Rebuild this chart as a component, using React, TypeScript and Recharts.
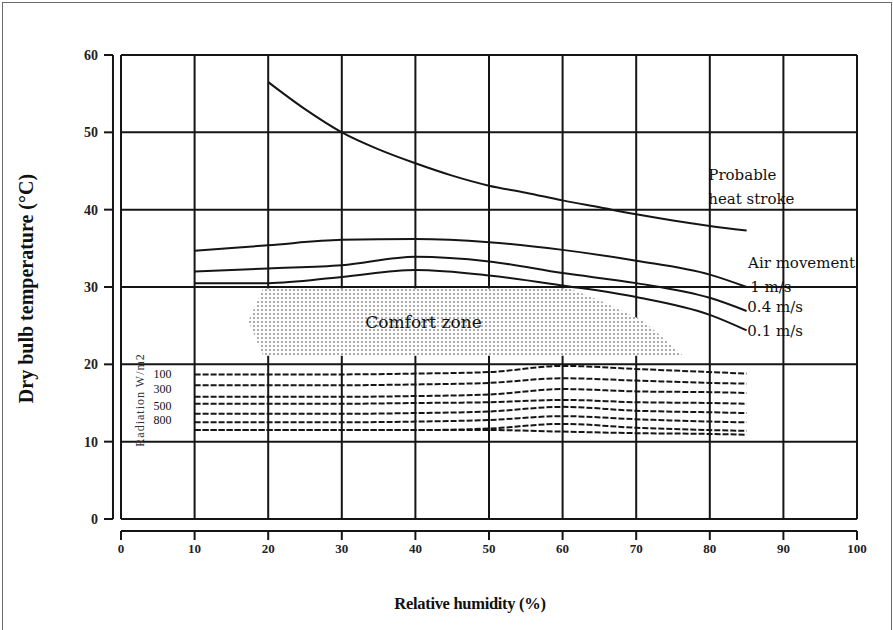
import {
  Area,
  CartesianGrid,
  ComposedChart,
  Line,
  ReferenceDot,
  ReferenceLine,
  XAxis,
  YAxis,
} from "recharts";

// relative humidity (%) on x, dry bulb temperature (°C) on y
const humidityTicks = [0, 10, 20, 30, 40, 50, 60, 70, 80, 90, 100];
const tempTicks = [0, 10, 20, 30, 40, 50, 60];

const heatHumidity = [20, 25, 30, 35, 40, 45, 50, 55, 60, 65, 70, 75, 80, 85];
const heatStroke = [56.5, 53, 50, 47.8, 46, 44.4, 43.1, 42.2, 41.2, 40.3, 39.4, 38.6, 37.9, 37.3];

const lowerHumidity = [10, 20, 30, 40, 50, 60, 70, 80, 85];
const air1 = [34.7, 35.4, 36.1, 36.2, 35.8, 34.8, 33.4, 31.6, 30.0];
const air04 = [32.0, 32.4, 32.8, 33.9, 33.3, 31.8, 30.5, 28.6, 26.9];
const air01 = [30.5, 30.5, 31.3, 32.2, 31.5, 30.2, 28.7, 26.4, 24.4];

const rad1 = [18.7, 18.7, 18.7, 18.8, 19.0, 19.8, 19.4, 19.0, 18.8];
const rad2 = [17.3, 17.3, 17.3, 17.4, 17.6, 18.2, 17.9, 17.6, 17.5];
const rad3 = [15.8, 15.8, 15.8, 15.9, 16.1, 16.8, 16.5, 16.4, 16.3];
const rad4 = [14.9, 14.9, 14.9, 15.0, 15.1, 15.4, 15.1, 15.0, 14.9];
const rad5 = [13.6, 13.6, 13.6, 13.7, 13.9, 14.5, 14.0, 13.8, 13.7];
const rad6 = [12.5, 12.5, 12.5, 12.6, 12.8, 13.3, 12.9, 12.6, 12.5];
const rad7 = [11.5, 11.5, 11.5, 11.5, 11.7, 12.3, 11.8, 11.5, 11.4];
const rad8 = [11.5, 11.5, 11.5, 11.5, 11.5, 11.3, 11.1, 11.0, 10.9];
const radiationSeries = [rad1, rad2, rad3, rad4, rad5, rad6, rad7, rad8];

// comfort zone outline: humidity, lower and upper temperature
const comfortHumidity = [17.3, 19.3, 60.9, 65, 71, 76.4];
const comfortLow = [25.6, 21.1, 21.1, 21.1, 21.1, 21.1];
const comfortHigh = [25.6, 29.8, 29.8, 28.3, 25.6, 21.1];

const radiationLabels = ["100", "300", "500", "800"];
const radiationLabelTemps = [18.75, 16.8, 14.7, 12.8];

const heatRows = heatHumidity.map((h, i) => ({ h, t: heatStroke[i] }));
const lowerRows = lowerHumidity.map((h, i) => {
  const row: Record<string, number> = { h, air1: air1[i], air04: air04[i], air01: air01[i] };
  radiationSeries.forEach((s, k) => (row[`rad${k}`] = s[i]));
  return row;
});
const comfortRows = comfortHumidity.map((h, i) => ({ h, range: [comfortLow[i], comfortHigh[i]] }));

const SERIF = '"Liberation Serif", "Times New Roman", serif';
const NOTE = '"DejaVu Serif", serif';
const INK = "#151515";

// axes sit a little away from the plot box, like the printed figure
const X_AXIS_AT = -1.55;
const Y_AXIS_AT = -1.09;

function note(value: string, fontSize = 15) {
  return { value, position: "right" as const, offset: 0, fill: "#111", fontSize, fontFamily: NOTE };
}

function XTick({ x, y, payload }: any) {
  return (
    <g>
      <line x1={x} x2={x} y1={y + 12} y2={y + 21} stroke={INK} strokeWidth={2} />
      <text x={x} y={y + 34} textAnchor="middle" fill="#222" fontSize={13} fontFamily={SERIF} fontWeight="bold">
        {payload.value}
      </text>
    </g>
  );
}

function YTick({ x, y, payload }: any) {
  return (
    <g>
      <line x1={x - 17} x2={x - 8} y1={y} y2={y} stroke={INK} strokeWidth={2} />
      <text x={x - 23} y={y + 5} textAnchor="end" fill="#222" fontSize={14} fontFamily={SERIF} fontWeight="bold">
        {payload.value}
      </text>
    </g>
  );
}

export default function App() {
  return (
    <div style={{ position: "absolute", left: 0, top: 0, width: 893, height: 630, background: "#fff", overflow: "hidden" }}>
      <div
        style={{
          position: "absolute",
          left: 2,
          top: 2,
          width: 888,
          height: 640,
          border: "1px solid #6b6b6b",
        }}
      />
      <ComposedChart
        width={893}
        height={630}
        margin={{ top: 55, right: 36, left: 76, bottom: 66 }}
        style={{ position: "absolute", left: 0, top: 0 }}
      >
        <defs>
          <pattern id="stipple" width="4" height="4" patternUnits="userSpaceOnUse">
            <rect width="4" height="4" fill="#fcfcfc" />
            <circle cx="2" cy="2" r="0.95" fill="#8a8a8a" />
          </pattern>
        </defs>
        <CartesianGrid stroke={INK} strokeWidth={2} />
        <XAxis
          dataKey="h"
          type="number"
          domain={[0, 100]}
          ticks={humidityTicks}
          height={45}
          axisLine={false}
          tickLine={false}
          tickSize={0}
          tickMargin={0}
          tick={<XTick />}
        />
        <YAxis
          type="number"
          domain={[0, 60]}
          ticks={tempTicks}
          width={45}
          axisLine={false}
          tickLine={false}
          tickSize={0}
          tickMargin={0}
          tick={<YTick />}
        />
        <ReferenceLine
          segment={[{ x: 0, y: X_AXIS_AT }, { x: 100, y: X_AXIS_AT }]}
          ifOverflow="visible"
          stroke={INK}
          strokeWidth={2}
        />
        <ReferenceLine
          segment={[{ x: Y_AXIS_AT, y: 0 }, { x: Y_AXIS_AT, y: 60 }]}
          ifOverflow="visible"
          stroke={INK}
          strokeWidth={2}
        />

        <Area
          data={comfortRows}
          dataKey="range"
          type="linear"
          stroke="none"
          fill="url(#stipple)"
          fillOpacity={1}
          isAnimationActive={false}
        />

        <Line data={heatRows} dataKey="t" type="monotone" stroke={INK} strokeWidth={2} dot={false} isAnimationActive={false} />
        {["air1", "air04", "air01"].map((k) => (
          <Line
            key={k}
            data={lowerRows}
            dataKey={k}
            type="monotone"
            stroke={INK}
            strokeWidth={2}
            dot={false}
            isAnimationActive={false}
          />
        ))}
        {radiationSeries.map((_, k) => (
          <Line
            key={`rad${k}`}
            data={lowerRows}
            dataKey={`rad${k}`}
            type="monotone"
            stroke={INK}
            strokeWidth={2}
            strokeDasharray="6 2"
            dot={false}
            isAnimationActive={false}
          />
        ))}

        <ReferenceDot x={79.8} y={44.5} r={0} stroke="none" fill="none" label={note("Probable")} />
        <ReferenceDot x={79.8} y={41.4} r={0} stroke="none" fill="none" label={note("heat stroke")} />
        <ReferenceDot x={85.2} y={33.2} r={0} stroke="none" fill="none" label={note("Air movement")} />
        <ReferenceDot x={85.5} y={30.0} r={0} stroke="none" fill="none" label={note("1 m/s")} />
        <ReferenceDot x={85.1} y={27.4} r={0} stroke="none" fill="none" label={note("0.4 m/s")} />
        <ReferenceDot x={85.1} y={24.3} r={0} stroke="none" fill="none" label={note("0.1 m/s")} />
        <ReferenceDot x={33.2} y={25.5} r={0} stroke="none" fill="none" label={note("Comfort zone", 17)} />
        {radiationLabels.map((v, i) => (
          <ReferenceDot
            key={v}
            x={4.4}
            y={radiationLabelTemps[i]}
            r={0}
            stroke="none"
            fill="none"
            label={{ value: v, position: "right", offset: 0, fill: "#111", fontSize: 12, fontFamily: SERIF }}
          />
        ))}
        <ReferenceDot
          x={2.6}
          y={15.4}
          r={0}
          stroke="none"
          fill="none"
          label={{
            value: "Radiation   W/m2",
            position: "center",
            angle: -90,
            fill: "#333",
            fontSize: 12,
            letterSpacing: 1,
            fontFamily: SERIF,
          }}
        />
      </ComposedChart>
      <div
        style={{
          position: "absolute",
          left: 370,
          top: 594,
          width: 200,
          textAlign: "center",
          fontFamily: SERIF,
          fontWeight: "bold",
          fontSize: 16.5,
          letterSpacing: -0.3,
          color: "#111",
        }}
      >
        Relative humidity (%)
      </div>
      <div
        style={{
          position: "absolute",
          left: 26 - 150,
          top: 289 - 12,
          width: 300,
          textAlign: "center",
          transform: "rotate(-90deg)",
          fontFamily: SERIF,
          fontWeight: "bold",
          fontSize: 20,
          color: "#111",
        }}
      >
        Dry bulb temperature (°C)
      </div>
    </div>
  );
}
